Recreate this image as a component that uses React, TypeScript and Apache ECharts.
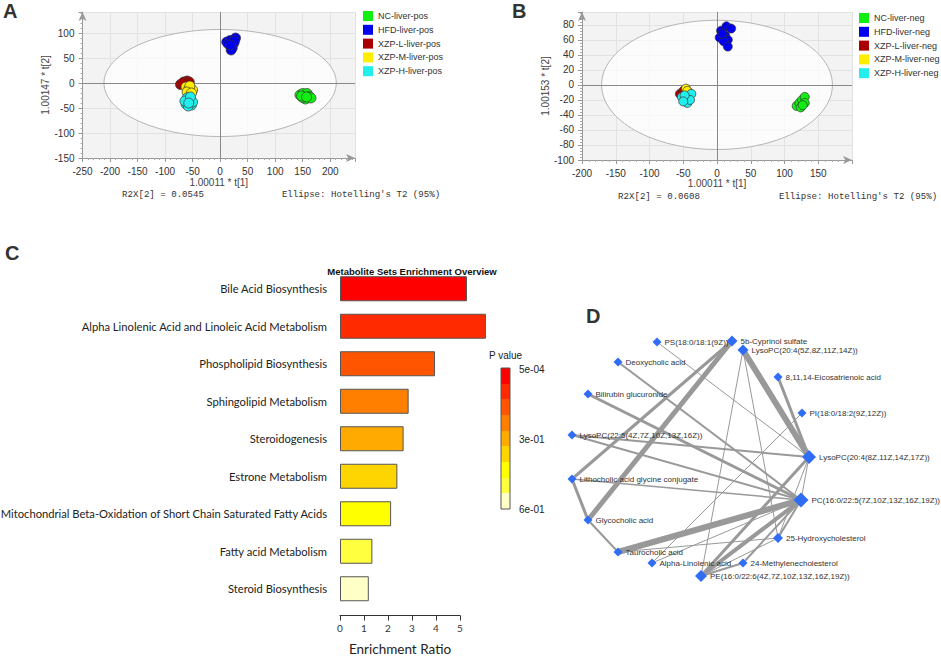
import React, { useEffect, useRef } from "react";
import * as echarts from "echarts";

// ---------- Panel A (positive mode) ----------
const A_NAMES = ["NC-liver-pos", "HFD-liver-pos", "XZP-L-liver-pos", "XZP-M-liver-pos", "XZP-H-liver-pos"];
const A_NC = [[145, -24], [150, -21], [158, -21], [162, -27], [155, -32], [150, -29], [165, -30], [148, -26], [157, -28]];
const A_HFD = [[12, 82], [18, 85], [28, 90], [25, 80], [22, 70], [20, 66], [15, 78], [26, 84], [19, 76]];
const A_L = [[-72, -3], [-66, 2], [-60, 4], [-56, 2], [-63, -2], [-68, 0]];
const A_M = [[-62, -8], [-58, -14], [-50, -14], [-55, -6], [-60, -18], [-52, -20]];
const A_H = [[-60, -30], [-55, -35], [-62, -42], [-52, -44], [-58, -46], [-50, -38], [-64, -36], [-54, -28], [-57, -40]];
const A_ELLIPSE = [[0, 0, 211, 107]];

// ---------- Panel B (negative mode) ----------
const B_NAMES = ["NC-liver-neg", "HFD-liver-neg", "XZP-L-liver-neg", "XZP-M-liver-neg", "XZP-H-liver-neg"];
const B_NC = [[118, -28], [122, -24], [126, -20], [130, -16], [130, -24], [124, -30], [127, -27]];
const B_HFD = [[6, 72], [14, 78], [21, 75], [4, 63], [12, 66], [16, 60], [10, 58], [16, 51], [8, 68]];
const B_L = [[-55, -12], [-50, -8], [-42, -10]];
const B_M = [[-46, -5], [-44, -8]];
const B_H = [[-52, -16], [-46, -20], [-38, -12], [-44, -24], [-40, -20], [-48, -14], [-50, -22]];
const B_ELLIPSE = [[0, 0, 171, 86]];

const GROUP_COLORS = ["#11ee11", "#0000ee", "#aa0000", "#ffee00", "#22eeee"];

// ---------- Panel C (enrichment) ----------
const pathways = [
  "Bile Acid Biosynthesis",
  "Alpha Linolenic Acid and Linoleic Acid Metabolism",
  "Phospholipid Biosynthesis",
  "Sphingolipid Metabolism",
  "Steroidogenesis",
  "Estrone Metabolism",
  "Mitochondrial Beta-Oxidation of Short Chain Saturated Fatty Acids",
  "Fatty acid Metabolism",
  "Steroid Biosynthesis",
];
const enrichment = [5.29, 6.08, 3.96, 2.86, 2.65, 2.39, 2.13, 1.35, 1.2];
const barColors = ["#ff0000", "#ff2a00", "#ff5500", "#ff8000", "#ffaa00", "#ffd500", "#ffff00", "#ffff40", "#ffffc8"];
const pLabels = ["5e-04", "3e-01", "6e-01"];

// ---------- Panel D (network) ----------
const nodeNames = [
  "PS(18:0/18:1(9Z))",
  "5b-Cyprinol sulfate",
  "LysoPC(20:4(5Z,8Z,11Z,14Z))",
  "Deoxycholic acid",
  "8,11,14-Eicosatrienoic acid",
  "Bilirubin glucuronide",
  "PI(18:0/18:2(9Z,12Z))",
  "LysoPC(22:5(4Z,7Z,10Z,13Z,16Z))",
  "LysoPC(20:4(8Z,11Z,14Z,17Z))",
  "Lithocholic acid glycine conjugate",
  "PC(16:0/22:5(7Z,10Z,13Z,16Z,19Z))",
  "Glycocholic acid",
  "25-Hydroxycholesterol",
  "Taurocholic acid",
  "Alpha-Linolenic acid",
  "24-Methylenecholesterol",
  "PE(16:0/22:6(4Z,7Z,10Z,13Z,16Z,19Z))",
];
const nodeX = [36.8, 66.8, 71.2, 21.2, 85.2, 9.2, 94.8, 2.8, 97.6, 2.8, 94.4, 9.2, 85.2, 21.2, 34.8, 71.2, 54.4];
const nodeY = [2.8, 2.4, 6, 10.8, 16.8, 23.6, 31.2, 40, 48.8, 57.6, 66, 74, 81.2, 86.8, 91.2, 91.2, 96.4];
const nodeDegree = [9, 11, 11, 9, 9, 9, 9, 9, 14, 9, 15, 9, 10, 9, 9, 9, 12];
// [source, target, weight]
const edges = [
  [1, 11, 5], [1, 9, 3], [2, 8, 6], [4, 8, 3], [0, 8, 1], [3, 10, 2], [5, 10, 3],
  [7, 8, 2], [7, 10, 2], [9, 10, 1.5], [9, 11, 3], [11, 13, 2], [13, 10, 6],
  [13, 12, 1], [2, 16, 1], [2, 12, 1], [6, 14, 1], [8, 16, 3], [8, 10, 1],
  [8, 12, 1], [10, 16, 4], [10, 15, 2], [10, 12, 2], [10, 14, 1], [16, 12, 1], [16, 15, 2],
];

const FONT = "Liberation Sans, Arial, sans-serif";

function pcaAxes(grid: number, xr: number[], yr: number[], xi: number, yi: number, yName: string, yGap: number, xGap: number) {
  const axisCommon = {
    gridIndex: grid,
    type: "value",
    axisLine: { show: true, onZero: false, lineStyle: { color: "#999" }, symbol: ["none", "arrow"], symbolSize: [6, 9] },
    axisTick: { show: true, length: 4, lineStyle: { color: "#999" } },
    minorTick: { show: true, splitNumber: 5, length: 2, lineStyle: { color: "#aaa" } },
    splitLine: { show: true, lineStyle: { color: "#e2e2e2" } },
    axisLabel: { fontSize: 10, color: "#333", fontFamily: FONT, showMaxLabel: false },
    nameTextStyle: { fontSize: 10, color: "#444", fontFamily: FONT },
  };
  return {
    x: { ...axisCommon, min: xr[0], max: xr[1], interval: xi, name: "1.00011 * t[1]", nameLocation: "middle", nameGap: xGap },
    y: { ...axisCommon, min: yr[0], max: yr[1], interval: yi, name: yName, nameLocation: "middle", nameGap: yGap, nameRotate: 90 },
  };
}

function ellipseSeries(data: number[][], xi: number, yi: number) {
  return {
    type: "custom",
    xAxisIndex: xi,
    yAxisIndex: yi,
    silent: true,
    z: 1,
    data,
    renderItem: (params: any, api: any) => {
      const c = api.coord([api.value(0), api.value(1)]);
      const s = api.size([api.value(2), api.value(3)]);
      return {
        type: "ellipse",
        shape: { cx: c[0], cy: c[1], rx: s[0], ry: s[1] },
        style: { fill: "rgba(255,255,255,0.72)", stroke: "#b5b5b5", lineWidth: 1 },
      };
    },
  };
}

function scatterSeries(names: string[], groups: number[][][], xi: number, yi: number, size: number) {
  return groups.map((g, i) => ({
    type: "scatter",
    name: names[i],
    xAxisIndex: xi,
    yAxisIndex: yi,
    data: g,
    symbolSize: size,
    z: 3,
    itemStyle: { color: GROUP_COLORS[i], borderColor: "#333", borderWidth: 0.7, opacity: 1 },
    ...(i === 0
      ? {
          markLine: {
            silent: true,
            symbol: ["none", "none"],
            label: { show: false },
            lineStyle: { color: "#888", type: "solid", width: 1 },
            data: [{ xAxis: 0 }, { yAxis: 0 }],
            z: 2,
          },
        }
      : {}),
  }));
}

export default function App() {
  const ref = useRef<HTMLDivElement>(null);
  useEffect(() => {
    if (!ref.current) return;
    const chart = echarts.init(ref.current, undefined, { renderer: "svg" });
    const a = pcaAxes(0, [-250, 245], [-150, 142], 50, 50, "1.00147 * t[2]", 25, 19);
    const b = pcaAxes(1, [-200, 200], [-100, 97], 50, 20, "1.00153 * t[2]", 29, 17);

    // colour bar stops (discrete bands)
    const stops: any[] = [];
    barColors.forEach((c, i) => {
      stops.push({ offset: i / barColors.length, color: c });
      stops.push({ offset: (i + 1) / barColors.length, color: c });
    });

    const text = (x: number, y: number, t: string, font: string, align = "left", va = "top", fill = "#333") => ({
      type: "text",
      x,
      y,
      silent: true,
      style: { text: t, font, fill, textAlign: align, textVerticalAlign: va },
    });

    const option: any = {
      animation: false,
      backgroundColor: "#ffffff",
      grid: [
        { left: 82.5, top: 12, width: 272.5, height: 146, show: true, backgroundColor: "#f3f3f3", borderWidth: 0, outerBoundsMode: "none", containLabel: false },
        { left: 582, top: 12, width: 270, height: 148, show: true, backgroundColor: "#f3f3f3", borderWidth: 0, outerBoundsMode: "none", containLabel: false },
        { left: 340, top: 270, width: 120, height: 337.5, outerBoundsMode: "none", containLabel: false },
        { left: 565, top: 335, width: 250, height: 250, outerBoundsMode: "none", containLabel: false },
      ],
      xAxis: [
        a.x,
        b.x,
        {
          gridIndex: 2,
          type: "value",
          min: 0,
          max: 5,
          interval: 1,
          offset: 8,
          axisLine: { show: true, lineStyle: { color: "#333" } },
          axisTick: { show: true, length: 5, lineStyle: { color: "#333" } },
          splitLine: { show: false },
          axisLabel: { fontSize: 10, color: "#333", fontFamily: "Lato, sans-serif", margin: 7 },
          name: "Enrichment Ratio",
          nameLocation: "middle",
          nameGap: 26,
          nameTextStyle: { fontSize: 13.5, color: "#222", fontFamily: "Lato, sans-serif" },
        },
        { gridIndex: 3, type: "value", min: 0, max: 100, show: false },
      ],
      yAxis: [
        a.y,
        b.y,
        {
          gridIndex: 2,
          type: "category",
          data: pathways,
          inverse: true,
          axisLine: { show: false },
          axisTick: { show: false },
          axisLabel: { fontSize: 11.2, color: "#222", fontFamily: "Lato, sans-serif", margin: 13 },
        },
        { gridIndex: 3, type: "value", min: 0, max: 100, inverse: true, show: false },
      ],
      legend: [
        {
          data: A_NAMES,
          orient: "vertical",
          left: 358,
          top: 6,
          itemWidth: 10,
          itemHeight: 10,
          itemGap: 3.8,
          icon: "rect",
          itemStyle: { borderWidth: 0 },
          textStyle: { fontSize: 9, color: "#333", fontFamily: FONT },
          selectedMode: false,
        },
        {
          data: B_NAMES,
          orient: "vertical",
          left: 854,
          top: 8,
          itemWidth: 10,
          itemHeight: 10,
          itemGap: 3.8,
          icon: "rect",
          itemStyle: { borderWidth: 0 },
          textStyle: { fontSize: 9, color: "#333", fontFamily: FONT },
          selectedMode: false,
        },
      ],
      series: [
        ellipseSeries(A_ELLIPSE, 0, 0),
        ...scatterSeries(A_NAMES, [A_NC, A_HFD, A_L, A_M, A_H], 0, 0, 10),
        ellipseSeries(B_ELLIPSE, 1, 1),
        ...scatterSeries(B_NAMES, [B_NC, B_HFD, B_L, B_M, B_H], 1, 1, 9),
        {
          type: "bar",
          xAxisIndex: 2,
          yAxisIndex: 2,
          clip: false,
          barWidth: 25,
          data: enrichment.map((v, i) => ({
            value: v,
            itemStyle: { color: barColors[i], borderColor: "#555", borderWidth: 1 },
          })),
        },
        {
          type: "graph",
          coordinateSystem: "cartesian2d",
          xAxisIndex: 3,
          yAxisIndex: 3,
          layout: "none",
          symbol: "diamond",
          z: 3,
          data: nodeNames.map((n, i) => ({ name: n, value: [nodeX[i], nodeY[i]], symbolSize: nodeDegree[i] })),
          links: edges.map(([s, t, w]) => ({ source: s, target: t, lineStyle: { width: w } })),
          itemStyle: { color: "#2f6df5" },
          lineStyle: { color: "#999", opacity: 1, curveness: 0 },
          label: { show: true, position: "right", distance: 3, fontSize: 8, color: "#333", fontFamily: FONT, formatter: "{b}" },
          emphasis: { disabled: true },
        },
      ],
      graphic: [
        text(3, 1, "A", "bold 20px Liberation Sans"),
        text(512, 1, "B", "bold 20px Liberation Sans"),
        text(5, 243, "C", "bold 20px Liberation Sans"),
        text(586, 306, "D", "bold 20px Liberation Sans"),
        text(163, 194, "R2X[2] = 0.0545", "9.1px Liberation Mono", "center", "middle"),
        text(361, 194, "Ellipse: Hotelling's T2 (95%)", "9.1px Liberation Mono", "center", "middle"),
        text(659, 196, "R2X[2] = 0.0608", "9.1px Liberation Mono", "center", "middle"),
        text(858, 196, "Ellipse: Hotelling's T2 (95%)", "9.1px Liberation Mono", "center", "middle"),
        text(412, 271, "Metabolite Sets Enrichment Overview", "bold 9.5px Liberation Sans", "center", "middle", "#111"),
        text(489, 355, "P value", "10px Liberation Sans", "left", "middle", "#222"),
        {
          type: "rect",
          silent: true,
          shape: { x: 501, y: 368, width: 9, height: 141 },
          style: { fill: new echarts.graphic.LinearGradient(0, 0, 0, 1, stops), stroke: "#555", lineWidth: 1 },
        },
        text(519, 369, pLabels[0], "10px Liberation Sans", "left", "middle", "#222"),
        text(519, 439, pLabels[1], "10px Liberation Sans", "left", "middle", "#222"),
        text(519, 509, pLabels[2], "10px Liberation Sans", "left", "middle", "#222"),
      ],
    };
    chart.setOption(option);
    return () => chart.dispose();
  }, []);
  return <div ref={ref} style={{ position: "absolute", left: 0, top: 0, width: 941, height: 659 }} />;
}
